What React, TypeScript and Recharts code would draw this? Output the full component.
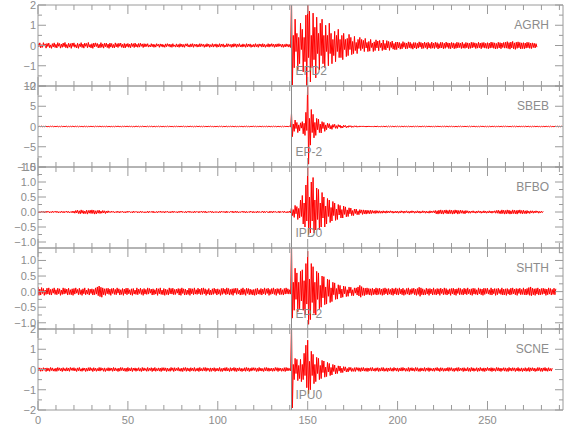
import { LineChart, Line, XAxis, YAxis, ReferenceLine } from 'recharts';

const AXIS = '#9a9a9a';
const TEXT = '#8c8c8c';
const TRACE = '#ff0000';
const PICK = '#8c8c8c';
const FONT = "'Liberation Sans', Arial, sans-serif";

const W = 580;
const H = 440;
const TOP = 5;
const PH = 81;
const DT = 0.5; // sample interval (s)

const xDomain = [0, 292];
const xTicks = [0, 10, 20, 30, 40, 50, 60, 70, 80, 90, 100, 110, 120, 130, 140, 150, 160, 170, 180, 190, 200, 210, 220, 230, 240, 250, 260, 270, 280, 290];
const xMajor = [0, 50, 100, 150, 200, 250];

const stations = ['AGRH', 'SBEB', 'BFBO', 'SHTH', 'SCNE'];
const pickLabels = ['EPD2', 'EP-2', 'IPD0', 'EP-2', 'IPU0'];
const pickTimes = [141, 141, 141, 141, 141];

// station traces, two samples per second, one row = 10 s
const agrh = [
  0.11, -0.06, 0.13, -0.12, 0.04, -0.09, 0.14, -0.03, 0.08, -0.13, 0.10, -0.05, 0.12, -0.11, 0.03, -0.14, 0.09, -0.07, 0.13, -0.10,
  0.06, -0.12, 0.14, -0.04, 0.10, -0.13, 0.07, -0.09, 0.12, -0.06, 0.15, -0.11, 0.05, -0.13, 0.11, -0.08, 0.09, -0.14, 0.12, -0.05,
  0.13, -0.09, 0.04, -0.12, 0.11, -0.14, 0.08, -0.06, 0.14, -0.10, 0.07, -0.13, 0.12, -0.04, 0.10, -0.11, 0.15, -0.08, 0.05, -0.12,
  0.09, -0.14, 0.12, -0.07, 0.13, -0.05, 0.10, -0.12, 0.06, -0.11, 0.14, -0.09, 0.08, -0.13, 0.11, -0.06, 0.12, -0.10, 0.07, -0.14,
  0.12, -0.08, 0.10, -0.11, 0.05, -0.12, 0.13, -0.07, 0.09, -0.10, 0.11, -0.04, 0.12, -0.09, 0.06, -0.11, 0.10, -0.12, 0.08, -0.06,
  0.10, -0.09, 0.07, -0.11, 0.11, -0.05, 0.09, -0.10, 0.12, -0.07, 0.06, -0.09, 0.10, -0.08, 0.11, -0.04, 0.08, -0.10, 0.09, -0.07,
  0.08, -0.05, 0.09, -0.08, 0.03, -0.07, 0.09, -0.06, 0.07, -0.09, 0.05, -0.08, 0.09, -0.03, 0.06, -0.09, 0.08, -0.05, 0.07, -0.08,
  0.04, -0.09, 0.08, -0.06, 0.09, -0.04, 0.07, -0.08, 0.06, -0.09, 0.09, -0.05, 0.03, -0.08, 0.08, -0.07, 0.05, -0.09, 0.09, -0.06,
  0.07, -0.08, 0.05, -0.09, 0.08, -0.03, 0.09, -0.07, 0.04, -0.08, 0.08, -0.06, 0.09, -0.09, 0.06, -0.04, 0.07, -0.08, 0.05, -0.07,
  0.09, -0.06, 0.08, -0.04, 0.06, -0.09, 0.05, -0.07, 0.09, -0.05, 0.07, -0.09, 0.04, -0.06, 0.09, -0.08, 0.06, -0.05, 0.08, -0.09,
  0.05, -0.07, 0.09, -0.08, 0.07, -0.05, 0.08, -0.09, 0.03, -0.07, 0.09, -0.06, 0.08, -0.04, 0.05, -0.09, 0.07, -0.08, 0.09, -0.05,
  0.08, -0.09, 0.06, -0.05, 0.09, -0.07, 0.04, -0.08, 0.08, -0.06, 0.05, -0.09, 0.09, -0.07, 0.07, -0.05, 0.08, -0.09, 0.04, -0.07,
  0.06, -0.08, 0.09, -0.06, 0.05, -0.09, 0.08, -0.04, 0.07, -0.08, 0.09, -0.07, 0.06, -0.09, 0.04, -0.06, 0.09, -0.08, 0.07, -0.05,
  0.09, -0.05, 0.07, -0.09, 0.06, -0.07, 0.08, -0.06, 0.09, -0.04, 0.06, -0.08, 0.07, -0.09, 0.05, -0.07, 0.08, -0.05, 0.06, -0.08,
  0.05, -0.1, 2.4, -1.95, 0.5, -1.1, 1.3, -0.3, 0.6, -1.2, 0.4, -0.9, 1.1, -0.2, 0.8, -1.3, 0.4, -0.8, 1.5, -2.3,
  2.5, -0.6, 1.7, -1.8, 0.5, -1.1, 1.6, -0.7, 0.9, -1.6, 1.4, -0.4, 0.6, -1.2, 1.1, -0.5, 1.3, -0.9, 0.5, -1.1,
  1.0, -0.3, 0.5, -1.0, 1.1, -0.4, 0.6, -0.9, 0.3, -0.5, 0.7, -0.8, 0.5, -0.3, 0.8, -0.6, 0.3, -0.6, 0.5, -0.7,
  0.6, -0.2, 0.3, -0.55, 0.35, -0.5, 0.55, -0.2, 0.4, -0.45, 0.2, -0.4, 0.45, -0.25, 0.15, -0.4, 0.3, -0.15, 0.4, -0.25,
  0.3, -0.15, 0.25, -0.3, 0.35, -0.12, 0.15, -0.3, 0.2, -0.28, 0.3, -0.1, 0.12, -0.3, 0.18, -0.25, 0.28, -0.12, 0.22, -0.26,
  0.25, -0.1, 0.12, -0.25, 0.27, -0.2, 0.1, -0.22, 0.24, -0.12, 0.2, -0.24, 0.16, -0.1, 0.22, -0.18, 0.1, -0.21, 0.17, -0.2,
  0.17, -0.12, 0.15, -0.18, 0.10, -0.16, 0.19, -0.09, 0.14, -0.17, 0.12, -0.15, 0.18, -0.11, 0.16, -0.14, 0.09, -0.18, 0.15, -0.12,
  0.14, -0.17, 0.11, -0.13, 0.18, -0.08, 0.15, -0.16, 0.12, -0.14, 0.17, -0.10, 0.13, -0.18, 0.16, -0.12, 0.10, -0.15, 0.17, -0.13,
  0.12, -0.15, 0.16, -0.10, 0.14, -0.17, 0.09, -0.13, 0.16, -0.12, 0.15, -0.16, 0.11, -0.14, 0.17, -0.09, 0.13, -0.15, 0.12, -0.16,
  0.15, -0.11, 0.13, -0.16, 0.10, -0.14, 0.16, -0.12, 0.14, -0.10, 0.12, -0.15, 0.16, -0.13, 0.09, -0.14, 0.15, -0.11, 0.13, -0.16,
  0.11, -0.14, 0.16, -0.12, 0.15, -0.09, 0.13, -0.15, 0.10, -0.13, 0.16, -0.11, 0.12, -0.16, 0.14, -0.10, 0.15, -0.13, 0.11, -0.14,
  0.14, -0.16, 0.12, -0.13, 0.17, -0.11, 0.15, -0.14, 0.13, -0.17, 0.10, -0.15, 0.16, -0.12, 0.14, -0.16, 0.12, -0.10, 0.15, -0.13,
  0.16, -0.13, 0.19, -0.15, 0.14, -0.18, 0.17, -0.12, 0.20, -0.16, 0.13, -0.19, 0.16, -0.14, 0.18, -0.11, 0.15, -0.17, 0.13, -0.15,
  0.14, -0.16, 0.12, -0.13, 0.16, -0.11, 0.15, -0.14, 0.12, -0.15, 0.13, -0.10, 0.11, -0.12, 0.09, -0.08,
];

const sbeb = [
  0.06, -0.09, 0.08, -0.05, 0.10, -0.07, 0.04, -0.08, 0.09, -0.06, 0.07, -0.10, 0.05, -0.07, 0.08, -0.04, 0.09, -0.08, 0.06, -0.09,
  0.09, -0.05, 0.07, -0.09, 0.04, -0.08, 0.10, -0.06, 0.06, -0.07, 0.08, -0.05, 0.09, -0.10, 0.05, -0.06, 0.07, -0.09, 0.10, -0.04,
  0.05, -0.08, 0.09, -0.06, 0.08, -0.10, 0.06, -0.05, 0.07, -0.09, 0.04, -0.07, 0.10, -0.08, 0.06, -0.09, 0.05, -0.06, 0.08, -0.07,
  0.08, -0.06, 0.05, -0.10, 0.09, -0.04, 0.07, -0.08, 0.10, -0.05, 0.06, -0.09, 0.07, -0.06, 0.04, -0.08, 0.09, -0.07, 0.05, -0.10,
  0.07, -0.10, 0.06, -0.07, 0.05, -0.09, 0.08, -0.04, 0.09, -0.06, 0.10, -0.08, 0.04, -0.09, 0.07, -0.05, 0.08, -0.06, 0.09, -0.07,
  0.10, -0.07, 0.08, -0.05, 0.06, -0.09, 0.05, -0.10, 0.07, -0.04, 0.09, -0.06, 0.08, -0.09, 0.05, -0.07, 0.10, -0.05, 0.06, -0.08,
  0.04, -0.06, 0.09, -0.08, 0.07, -0.05, 0.10, -0.09, 0.05, -0.07, 0.08, -0.10, 0.06, -0.04, 0.09, -0.08, 0.07, -0.06, 0.05, -0.09,
  0.08, -0.09, 0.05, -0.06, 0.10, -0.07, 0.06, -0.05, 0.09, -0.10, 0.04, -0.08, 0.07, -0.06, 0.08, -0.05, 0.06, -0.09, 0.10, -0.07,
  0.06, -0.05, 0.10, -0.08, 0.04, -0.09, 0.07, -0.07, 0.08, -0.05, 0.09, -0.06, 0.05, -0.10, 0.06, -0.08, 0.09, -0.04, 0.07, -0.06,
  0.09, -0.08, 0.06, -0.09, 0.08, -0.06, 0.05, -0.07, 0.10, -0.08, 0.07, -0.04, 0.09, -0.05, 0.04, -0.09, 0.06, -0.10, 0.08, -0.05,
  0.05, -0.07, 0.08, -0.04, 0.09, -0.10, 0.06, -0.08, 0.07, -0.06, 0.10, -0.09, 0.05, -0.05, 0.08, -0.07, 0.09, -0.06, 0.04, -0.08,
  0.07, -0.09, 0.04, -0.07, 0.06, -0.05, 0.09, -0.10, 0.05, -0.08, 0.08, -0.06, 0.10, -0.07, 0.06, -0.09, 0.05, -0.08, 0.09, -0.04,
  0.10, -0.06, 0.07, -0.08, 0.05, -0.07, 0.08, -0.05, 0.06, -0.09, 0.09, -0.07, 0.04, -0.06, 0.10, -0.10, 0.07, -0.05, 0.06, -0.09,
  0.06, -0.08, 0.09, -0.05, 0.07, -0.09, 0.04, -0.06, 0.08, -0.07, 0.05, -0.10, 0.09, -0.08, 0.06, -0.04, 0.08, -0.09, 0.07, -0.06,
  0.1, -0.1, 3.3, -2.5, 0.6, -1.2, 1.6, -0.5, 1.0, -1.5, 0.4, -1.1, 0.9, -0.4, 1.2, -1.8, 0.8, -2.2, 3.5, -1.0,
  11.5, -9.3, 2.0, -4.6, 4.2, -1.5, 3.0, -2.8, 1.0, -2.2, 2.0, -0.8, 1.8, -1.5, 0.6, -1.6, 1.2, -0.5, 1.0, -1.2,
  0.4, -0.8, 0.8, -0.3, 0.7, -0.6, 0.25, -0.7, 0.5, -0.2, 0.55, -0.45, 0.2, -0.5, 0.45, -0.15, 0.35, -0.4, 0.12, -0.35,
  0.32, -0.12, 0.25, -0.3, 0.1, -0.22, 0.22, -0.1, 0.2, -0.22, 0.1, -0.18, 0.18, -0.08, 0.17, -0.18, 0.08, -0.15, 0.15, -0.1,
  0.14, -0.12, 0.15, -0.13, 0.11, -0.15, 0.13, -0.11, 0.14, -0.12, 0.12, -0.14, 0.13, -0.10, 0.11, -0.13, 0.12, -0.11, 0.10, -0.12,
  0.12, -0.10, 0.11, -0.12, 0.09, -0.11, 0.12, -0.09, 0.10, -0.11, 0.11, -0.08, 0.09, -0.10, 0.10, -0.09, 0.08, -0.10, 0.09, -0.08,
  0.09, -0.07, 0.06, -0.10, 0.08, -0.05, 0.07, -0.09, 0.10, -0.06, 0.05, -0.08, 0.09, -0.07, 0.06, -0.10, 0.04, -0.06, 0.08, -0.09,
  0.07, -0.05, 0.10, -0.08, 0.06, -0.09, 0.05, -0.07, 0.09, -0.04, 0.08, -0.10, 0.06, -0.05, 0.07, -0.08, 0.10, -0.09, 0.05, -0.07,
  0.05, -0.09, 0.08, -0.06, 0.10, -0.07, 0.09, -0.05, 0.04, -0.08, 0.07, -0.06, 0.10, -0.09, 0.08, -0.04, 0.06, -0.10, 0.09, -0.05,
  0.08, -0.06, 0.04, -0.09, 0.07, -0.10, 0.06, -0.08, 0.09, -0.05, 0.10, -0.07, 0.05, -0.06, 0.09, -0.09, 0.07, -0.05, 0.06, -0.08,
  0.10, -0.08, 0.07, -0.05, 0.09, -0.06, 0.08, -0.10, 0.05, -0.07, 0.06, -0.09, 0.08, -0.04, 0.10, -0.06, 0.05, -0.08, 0.07, -0.09,
  0.06, -0.10, 0.09, -0.07, 0.05, -0.08, 0.10, -0.06, 0.07, -0.09, 0.04, -0.05, 0.09, -0.08, 0.06, -0.07, 0.08, -0.09, 0.10, -0.06,
  0.09, -0.04, 0.06, -0.08, 0.08, -0.09, 0.05, -0.07, 0.10, -0.06, 0.09, -0.10, 0.07, -0.05, 0.04, -0.08, 0.09, -0.07, 0.06, -0.05,
  0.07, -0.09, 0.10, -0.06, 0.06, -0.05, 0.08, -0.09, 0.05, -0.10, 0.07, -0.06, 0.09, -0.08, 0.08, -0.05, 0.06, -0.07, 0.04, -0.09,
  0.05, -0.07, 0.08, -0.10, 0.09, -0.06, 0.07, -0.05, 0.06, -0.08, 0.10, -0.07, 0.05, -0.09, 0.07, -0.06, 0.09, -0.05, 0.08, -0.10,
  0.06, -0.08, 0.09, -0.05, 0.07,
];

const bfbo = [
  0.02, -0.03, 0.01, -0.02, 0.03, -0.01, 0.02, -0.03, 0.02, -0.02, 0.03, -0.01, 0.02, -0.03, 0.01, -0.02, 0.03, -0.02, 0.02, -0.01,
  0.03, -0.02, 0.02, -0.03, 0.01, -0.02, 0.03, -0.02, 0.02, -0.03, 0.02, -0.01, 0.03, -0.02, 0.02, -0.03, 0.01, -0.02, 0.03, -0.03,
  0.03, -0.04, 0.05, -0.03, 0.06, -0.05, 0.04, -0.06, 0.07, -0.04, 0.05, -0.06, 0.03, -0.05, 0.06, -0.07, 0.05, -0.04, 0.06, -0.05,
  0.07, -0.05, 0.06, -0.07, 0.04, -0.06, 0.05, -0.04, 0.06, -0.05, 0.03, -0.04, 0.05, -0.03, 0.04, -0.05, 0.03, -0.03, 0.04, -0.02,
  0.02, -0.02, 0.03, -0.01, 0.02, -0.03, 0.01, -0.02, 0.03, -0.02, 0.02, -0.03, 0.02, -0.01, 0.03, -0.02, 0.01, -0.03, 0.02, -0.02,
  0.03, -0.01, 0.02, -0.02, 0.01, -0.03, 0.03, -0.02, 0.02, -0.01, 0.02, -0.03, 0.01, -0.02, 0.03, -0.02, 0.02, -0.02, 0.01, -0.03,
  0.01, -0.02, 0.03, -0.03, 0.02, -0.01, 0.02, -0.02, 0.03, -0.03, 0.01, -0.02, 0.02, -0.03, 0.02, -0.01, 0.03, -0.02, 0.02, -0.02,
  0.02, -0.03, 0.02, -0.01, 0.03, -0.02, 0.01, -0.03, 0.02, -0.02, 0.03, -0.02, 0.02, -0.01, 0.01, -0.03, 0.02, -0.02, 0.03, -0.01,
  0.03, -0.02, 0.01, -0.02, 0.02, -0.03, 0.02, -0.01, 0.03, -0.02, 0.02, -0.02, 0.01, -0.03, 0.03, -0.02, 0.02, -0.01, 0.02, -0.03,
  0.02, -0.01, 0.03, -0.02, 0.02, -0.02, 0.03, -0.03, 0.01, -0.02, 0.02, -0.01, 0.03, -0.02, 0.02, -0.03, 0.01, -0.02, 0.02, -0.02,
  0.01, -0.03, 0.02, -0.02, 0.03, -0.01, 0.02, -0.02, 0.02, -0.03, 0.03, -0.02, 0.01, -0.02, 0.02, -0.01, 0.03, -0.03, 0.02, -0.02,
  0.03, -0.02, 0.02, -0.03, 0.01, -0.02, 0.02, -0.01, 0.03, -0.02, 0.02, -0.03, 0.02, -0.02, 0.01, -0.02, 0.03, -0.01, 0.02, -0.03,
  0.02, -0.02, 0.01, -0.03, 0.03, -0.02, 0.02, -0.02, 0.01, -0.01, 0.03, -0.03, 0.02, -0.02, 0.02, -0.01, 0.01, -0.03, 0.03, -0.02,
  0.02, -0.03, 0.03, -0.01, 0.02, -0.02, 0.01, -0.02, 0.03, -0.03, 0.02, -0.01, 0.02, -0.02, 0.03, -0.02, 0.01, -0.03, 0.02, -0.02,
  0.03, -0.03, 0.15, -0.12, 0.08, -0.18, 0.22, -0.06, 0.18, -0.25, 0.12, -0.2, 0.4, -0.15, 0.55, -0.4, 0.3, -0.5, 0.9, -0.3,
  1.55, -0.75, 0.5, -0.7, 1.0, -0.3, 1.15, -0.7, 0.4, -0.6, 0.8, -0.25, 0.75, -0.6, 0.3, -0.5, 0.65, -0.2, 0.5, -0.5,
  0.2, -0.4, 0.45, -0.15, 0.4, -0.35, 0.15, -0.3, 0.35, -0.12, 0.3, -0.28, 0.1, -0.25, 0.25, -0.1, 0.22, -0.2, 0.08, -0.2,
  0.2, -0.08, 0.17, -0.16, 0.07, -0.15, 0.14, -0.06, 0.13, -0.12, 0.05, -0.12, 0.1, -0.05, 0.1, -0.09, 0.04, -0.09, 0.08, -0.04,
  0.07, -0.08, 0.07, -0.06, 0.06, -0.07, 0.06, -0.05, 0.05, -0.06, 0.06, -0.05, 0.05, -0.04, 0.04, -0.05, 0.05, -0.04, 0.04, -0.04,
  0.04, -0.04, 0.03, -0.04, 0.04, -0.03, 0.03, -0.04, 0.04, -0.03, 0.03, -0.03, 0.04, -0.02, 0.03, -0.04, 0.02, -0.03, 0.03, -0.03,
  0.03, -0.04, 0.02, -0.03, 0.04, -0.02, 0.03, -0.04, 0.03, -0.02, 0.04, -0.03, 0.02, -0.04, 0.03, -0.03, 0.04, -0.02, 0.03, -0.04,
  0.02, -0.03, 0.04, -0.03, 0.03, -0.04, 0.02, -0.03, 0.04, -0.02, 0.03, -0.04, 0.03, -0.03, 0.02, -0.04, 0.04, -0.03, 0.03, -0.02,
  0.04, -0.03, 0.05, -0.06, 0.04, -0.07, 0.06, -0.05, 0.07, -0.06, 0.05, -0.07, 0.06, -0.04, 0.07, -0.06, 0.05, -0.06, 0.07, -0.05,
  0.06, -0.07, 0.05, -0.06, 0.07, -0.04, 0.06, -0.07, 0.05, -0.05, 0.06, -0.04, 0.05, -0.05, 0.04, -0.06, 0.05, -0.03, 0.04, -0.04,
  0.03, -0.04, 0.03, -0.02, 0.04, -0.03, 0.02, -0.04, 0.03, -0.03, 0.04, -0.02, 0.03, -0.04, 0.02, -0.03, 0.04, -0.03, 0.03, -0.04,
  0.02, -0.03, 0.04, -0.03, 0.03, -0.04, 0.03, -0.02, 0.04, -0.04, 0.05, -0.04, 0.06, -0.05, 0.04, -0.06, 0.07, -0.05, 0.06, -0.07,
  0.05, -0.06, 0.07, -0.05, 0.06, -0.07, 0.04, -0.06, 0.07, -0.05, 0.06, -0.06, 0.05, -0.07, 0.06, -0.04, 0.07, -0.05, 0.05, -0.06,
  0.06, -0.05, 0.04, -0.06, 0.05, -0.04, 0.03, -0.05, 0.04, -0.03, 0.04, -0.04, 0.03, -0.03, 0.04, -0.02, 0.03, -0.04, 0.02, -0.03,
  0.03, -0.02, 0.02,
];

const shth = [
  0.15, -0.12, 0.08, -0.11, 0.13, -0.06, 0.10, -0.12, 0.05, -0.09, 0.11, -0.08, 0.12, -0.10, 0.07, -0.11, 0.09, -0.05, 0.12, -0.09,
  0.06, -0.10, 0.11, -0.07, 0.09, -0.12, 0.05, -0.09, 0.12, -0.08, 0.10, -0.06, 0.08, -0.11, 0.11, -0.09, 0.06, -0.10, 0.09, -0.12,
  0.10, -0.08, 0.12, -0.05, 0.07, -0.10, 0.11, -0.09, 0.06, -0.12, 0.09, -0.07, 0.12, -0.10, 0.05, -0.08, 0.10, -0.11, 0.08, -0.06,
  0.09, -0.11, 0.07, -0.10, 0.12, -0.08, 0.15, -0.13, 0.18, -0.16, 0.14, -0.18, 0.12, -0.10, 0.09, -0.12, 0.10, -0.07, 0.11, -0.09,
  0.08, -0.12, 0.10, -0.06, 0.11, -0.09, 0.07, -0.10, 0.12, -0.05, 0.09, -0.11, 0.06, -0.09, 0.10, -0.12, 0.08, -0.07, 0.11, -0.10,
  0.11, -0.07, 0.06, -0.10, 0.09, -0.12, 0.10, -0.08, 0.05, -0.09, 0.12, -0.10, 0.08, -0.06, 0.11, -0.09, 0.07, -0.12, 0.10, -0.08,
  0.07, -0.09, 0.12, -0.08, 0.10, -0.05, 0.08, -0.11, 0.09, -0.10, 0.06, -0.08, 0.11, -0.12, 0.09, -0.07, 0.12, -0.09, 0.05, -0.10,
  0.10, -0.12, 0.08, -0.09, 0.06, -0.11, 0.12, -0.07, 0.10, -0.08, 0.11, -0.10, 0.07, -0.09, 0.08, -0.05, 0.10, -0.11, 0.09, -0.12,
  0.12, -0.06, 0.09, -0.11, 0.08, -0.10, 0.05, -0.09, 0.11, -0.12, 0.10, -0.07, 0.09, -0.10, 0.12, -0.08, 0.06, -0.09, 0.11, -0.07,
  0.08, -0.10, 0.11, -0.09, 0.12, -0.07, 0.09, -0.12, 0.06, -0.08, 0.10, -0.11, 0.05, -0.10, 0.09, -0.09, 0.11, -0.06, 0.08, -0.11,
  0.09, -0.08, 0.06, -0.12, 0.10, -0.09, 0.11, -0.06, 0.08, -0.10, 0.12, -0.08, 0.10, -0.11, 0.07, -0.09, 0.09, -0.12, 0.10, -0.05,
  0.11, -0.09, 0.10, -0.07, 0.05, -0.11, 0.09, -0.10, 0.12, -0.09, 0.07, -0.12, 0.11, -0.06, 0.10, -0.10, 0.08, -0.09, 0.06, -0.11,
  0.07, -0.12, 0.09, -0.10, 0.11, -0.08, 0.06, -0.09, 0.10, -0.11, 0.08, -0.07, 0.12, -0.10, 0.09, -0.06, 0.11, -0.12, 0.07, -0.09,
  0.10, -0.07, 0.12, -0.09, 0.08, -0.12, 0.10, -0.06, 0.09, -0.10, 0.11, -0.09, 0.06, -0.11, 0.10, -0.08, 0.12, -0.07, 0.09, -0.08,
  0.06, -0.08, 1.6, -0.85, 0.3, -0.6, 0.75, -0.25, 0.6, -0.65, 0.3, -0.55, 0.65, -0.3, 0.7, -0.6, 0.35, -0.75, 0.9, -0.4,
  1.3, -1.05, 0.4, -0.9, 0.9, -0.35, 0.8, -0.7, 0.3, -0.75, 0.65, -0.25, 0.6, -0.55, 0.2, -0.5, 0.5, -0.2, 0.48, -0.42,
  0.15, -0.4, 0.4, -0.15, 0.38, -0.35, 0.12, -0.32, 0.3, -0.1, 0.28, -0.25, 0.1, -0.24, 0.22, -0.08, 0.2, -0.2, 0.08, -0.18,
  0.18, -0.07, 0.16, -0.16, 0.06, -0.15, 0.15, -0.05, 0.14, -0.13, 0.06, -0.13, 0.12, -0.05, 0.12, -0.11, 0.15, -0.14, 0.2, -0.18,
  0.16, -0.12, 0.12, -0.13, 0.11, -0.10, 0.12, -0.09, 0.10, -0.11, 0.09, -0.12, 0.11, -0.10, 0.08, -0.09, 0.12, -0.11, 0.10, -0.09,
  0.11, -0.09, 0.08, -0.12, 0.10, -0.10, 0.12, -0.07, 0.09, -0.11, 0.10, -0.08, 0.07, -0.10, 0.11, -0.12, 0.09, -0.08, 0.12, -0.10,
  0.09, -0.11, 0.12, -0.07, 0.08, -0.10, 0.11, -0.12, 0.06, -0.09, 0.10, -0.08, 0.12, -0.11, 0.07, -0.09, 0.10, -0.06, 0.11, -0.10,
  0.08, -0.12, 0.10, -0.09, 0.14, -0.15, 0.12, -0.10, 0.09, -0.11, 0.06, -0.10, 0.11, -0.08, 0.09, -0.12, 0.10, -0.07, 0.08, -0.11,
  0.12, -0.09, 0.07, -0.11, 0.10, -0.08, 0.09, -0.12, 0.11, -0.06, 0.08, -0.10, 0.12, -0.09, 0.10, -0.11, 0.06, -0.08, 0.09, -0.12,
  0.10, -0.07, 0.11, -0.10, 0.08, -0.12, 0.09, -0.06, 0.12, -0.10, 0.10, -0.09, 0.07, -0.11, 0.11, -0.08, 0.09, -0.10, 0.12, -0.07,
  0.07, -0.10, 0.09, -0.12, 0.11, -0.08, 0.10, -0.09, 0.06, -0.11, 0.12, -0.07, 0.09, -0.10, 0.08, -0.12, 0.11, -0.09, 0.10, -0.06,
  0.11, -0.08, 0.06, -0.10, 0.12, -0.11, 0.08, -0.07, 0.10, -0.12, 0.09, -0.10, 0.11, -0.06, 0.07, -0.09, 0.12, -0.11, 0.08, -0.10,
  0.09, -0.12, 0.10, -0.08, 0.07, -0.11, 0.11, -0.09, 0.12, -0.07, 0.08, -0.10, 0.10, -0.12, 0.09, -0.06, 0.11, -0.10, 0.07, -0.09,
  0.12, -0.10, 0.08, -0.11, 0.10, -0.09, 0.13, -0.12, 0.15, -0.13, 0.11, -0.10, 0.09, -0.12, 0.10, -0.08, 0.12, -0.11, 0.08, -0.10,
  0.10, -0.09, 0.11, -0.07, 0.09, -0.12, 0.08, -0.10, 0.12, -0.08, 0.10, -0.11, 0.07, -0.09, 0.11, -0.10, 0.09,
];

const scne = [
  0.10, -0.06, 0.08, -0.09, 0.05, -0.08, 0.09, -0.04, 0.07, -0.10, 0.08, -0.07, 0.06, -0.09, 0.10, -0.05, 0.08, -0.08, 0.04, -0.09,
  0.07, -0.09, 0.10, -0.05, 0.08, -0.07, 0.06, -0.10, 0.09, -0.06, 0.05, -0.08, 0.09, -0.07, 0.07, -0.09, 0.10, -0.04, 0.08, -0.06,
  0.09, -0.07, 0.05, -0.10, 0.08, -0.06, 0.10, -0.08, 0.04, -0.09, 0.08, -0.05, 0.07, -0.10, 0.06, -0.08, 0.09, -0.07, 0.10, -0.05,
  0.06, -0.10, 0.09, -0.06, 0.07, -0.09, 0.05, -0.07, 0.10, -0.08, 0.09, -0.04, 0.06, -0.09, 0.08, -0.10, 0.05, -0.06, 0.09, -0.08,
  0.08, -0.05, 0.07, -0.09, 0.10, -0.07, 0.08, -0.06, 0.05, -0.10, 0.07, -0.08, 0.10, -0.05, 0.09, -0.07, 0.06, -0.09, 0.07, -0.10,
  0.10, -0.08, 0.06, -0.07, 0.09, -0.10, 0.07, -0.05, 0.08, -0.09, 0.06, -0.06, 0.09, -0.08, 0.05, -0.10, 0.10, -0.07, 0.08, -0.05,
  0.05, -0.09, 0.10, -0.08, 0.06, -0.05, 0.09, -0.10, 0.07, -0.07, 0.10, -0.09, 0.05, -0.06, 0.08, -0.08, 0.07, -0.10, 0.09, -0.06,
  0.09, -0.06, 0.08, -0.10, 0.07, -0.08, 0.05, -0.09, 0.10, -0.05, 0.08, -0.10, 0.09, -0.07, 0.06, -0.05, 0.10, -0.08, 0.05, -0.09,
  0.07, -0.10, 0.09, -0.05, 0.10, -0.09, 0.08, -0.07, 0.06, -0.10, 0.09, -0.06, 0.07, -0.08, 0.10, -0.09, 0.05, -0.07, 0.08, -0.10,
  0.10, -0.07, 0.05, -0.08, 0.09, -0.06, 0.10, -0.09, 0.08, -0.05, 0.06, -0.10, 0.08, -0.09, 0.07, -0.06, 0.09, -0.10, 0.06, -0.07,
  0.06, -0.08, 0.10, -0.09, 0.05, -0.10, 0.07, -0.06, 0.09, -0.08, 0.10, -0.07, 0.05, -0.10, 0.09, -0.08, 0.07, -0.05, 0.10, -0.09,
  0.08, -0.10, 0.07, -0.06, 0.09, -0.08, 0.06, -0.10, 0.05, -0.07, 0.09, -0.09, 0.10, -0.06, 0.08, -0.10, 0.06, -0.08, 0.09, -0.05,
  0.09, -0.05, 0.08, -0.10, 0.06, -0.09, 0.10, -0.07, 0.07, -0.08, 0.05, -0.10, 0.09, -0.06, 0.10, -0.08, 0.08, -0.09, 0.06, -0.07,
  0.07, -0.09, 0.06, -0.08, 0.10, -0.05, 0.09, -0.10, 0.08, -0.06, 0.07, -0.09, 0.05, -0.08, 0.09, -0.10, 0.10, -0.07, 0.08, -0.06,
  0.05, -0.07, 2.3, -1.9, 0.25, -0.5, 0.55, -0.2, 0.5, -0.55, 0.2, -0.45, 0.5, -0.6, 0.25, -0.5, 0.8, -0.3, 1.2, -0.9,
  1.45, -1.2, 0.4, -1.0, 0.9, -0.3, 0.75, -0.7, 0.25, -0.6, 0.6, -0.2, 0.55, -0.5, 0.2, -0.45, 0.45, -0.15, 0.42, -0.38,
  0.12, -0.35, 0.35, -0.12, 0.3, -0.3, 0.1, -0.27, 0.25, -0.1, 0.22, -0.22, 0.08, -0.2, 0.18, -0.08, 0.17, -0.16, 0.07, -0.15,
  0.14, -0.06, 0.13, -0.12, 0.05, -0.12, 0.11, -0.05, 0.1, -0.1, 0.05, -0.09, 0.09, -0.1, 0.1, -0.04, 0.09, -0.09, 0.08, -0.1,
  0.09, -0.07, 0.10, -0.08, 0.06, -0.09, 0.08, -0.10, 0.07, -0.06, 0.09, -0.08, 0.10, -0.07, 0.05, -0.09, 0.08, -0.06, 0.09, -0.10,
  0.06, -0.08, 0.09, -0.07, 0.10, -0.09, 0.05, -0.08, 0.08, -0.10, 0.07, -0.06, 0.09, -0.08, 0.06, -0.09, 0.10, -0.05, 0.07, -0.08,
  0.08, -0.10, 0.06, -0.07, 0.09, -0.08, 0.10, -0.05, 0.07, -0.09, 0.05, -0.08, 0.10, -0.10, 0.08, -0.06, 0.09, -0.07, 0.06, -0.09,
  0.10, -0.06, 0.09, -0.09, 0.05, -0.10, 0.08, -0.07, 0.06, -0.08, 0.10, -0.09, 0.07, -0.05, 0.09, -0.10, 0.08, -0.06, 0.05, -0.08,
  0.07, -0.09, 0.08, -0.05, 0.10, -0.07, 0.06, -0.10, 0.09, -0.06, 0.08, -0.09, 0.05, -0.08, 0.07, -0.07, 0.10, -0.09, 0.09, -0.05,
  0.09, -0.08, 0.05, -0.10, 0.07, -0.06, 0.09, -0.09, 0.10, -0.07, 0.06, -0.05, 0.08, -0.10, 0.09, -0.08, 0.05, -0.07, 0.10, -0.09,
  0.06, -0.10, 0.10, -0.07, 0.08, -0.09, 0.05, -0.06, 0.09, -0.10, 0.07, -0.08, 0.10, -0.06, 0.06, -0.09, 0.08, -0.10, 0.07, -0.06,
  0.10, -0.05, 0.07, -0.08, 0.09, -0.10, 0.08, -0.07, 0.05, -0.09, 0.10, -0.06, 0.09, -0.08, 0.07, -0.10, 0.06, -0.05, 0.09, -0.08,
  0.08, -0.09, 0.06, -0.10, 0.10, -0.06, 0.07, -0.08, 0.09, -0.05, 0.08, -0.10, 0.06, -0.07, 0.10, -0.09, 0.05, -0.08, 0.08, -0.10,
  0.05, -0.07, 0.09, -0.09, 0.06, -0.08, 0.10, -0.10, 0.08, -0.06, 0.09, -0.07, 0.07, -0.10, 0.05, -0.08, 0.10, -0.06, 0.09, -0.09,
  0.07, -0.10, 0.08, -0.06, 0.10, -0.08, 0.06, -0.09, 0.09, -0.07, 0.05, -0.08, 0.07,
];

// y axis settings per station
const agrhTicks = [-2, -1.5, -1, -0.5, 0, 0.5, 1, 1.5, 2];
const agrhMajor = [-2, -1, 0, 1, 2];
const sbebTicks = [-10, -7.5, -5, -2.5, 0, 2.5, 5, 7.5, 10];
const sbebMajor = [-10, -5, 0, 5, 10];
const bfboTicks = [-1, -0.75, -0.5, -0.25, 0, 0.25, 0.5, 0.75, 1, 1.25, 1.5];
const bfboMajor = [-1, -0.5, 0, 0.5, 1, 1.5];
const shthTicks = [-1, -0.75, -0.5, -0.25, 0, 0.25, 0.5, 0.75, 1, 1.25];
const shthMajor = [-1, -0.5, 0, 0.5, 1];
const scneTicks = [-2, -1.5, -1, -0.5, 0, 0.5, 1, 1.5, 2];
const scneMajor = [-2, -1, 0, 1, 2];

const panels = [
  { values: agrh, domain: [-2, 2], ticks: agrhTicks, major: agrhMajor, digits: 0 },
  { values: sbeb, domain: [-10, 10], ticks: sbebTicks, major: sbebMajor, digits: 0 },
  { values: bfbo, domain: [-1.2, 1.5], ticks: bfboTicks, major: bfboMajor, digits: 1 },
  { values: shth, domain: [-1.2, 1.4], ticks: shthTicks, major: shthMajor, digits: 1 },
  { values: scne, domain: [-2, 2], ticks: scneTicks, major: scneMajor, digits: 0 },
];

const fmt = (v: number, digits: number) => v.toFixed(digits).replace('-', '\u2212');

function XTick(props: any) {
  const { x, y, payload, dir, showLabel } = props;
  const v = payload.value;
  const major = xMajor.includes(v);
  return (
    <g>
      <line x1={x} x2={x} y1={y} y2={y + dir * (major ? 9 : 5)} stroke={AXIS} />
      {showLabel && major && (
        <text x={x} y={y + 10} textAnchor="middle" dominantBaseline="central" fill={TEXT} fontSize={11} fontFamily={FONT}>
          {v}
        </text>
      )}
    </g>
  );
}

function YTick(props: any) {
  const { x, y, payload, dir, major, digits, showLabel } = props;
  const v = payload.value;
  const isMajor = major.includes(v);
  return (
    <g>
      <line x1={x} x2={x + dir * (isMajor ? 8 : 4)} y1={y} y2={y} stroke={AXIS} />
      {showLabel && isMajor && (
        <text x={x - 2} y={y} textAnchor="end" dominantBaseline="central" fill={TEXT} fontSize={11} fontFamily={FONT}>
          {fmt(v, digits)}
        </text>
      )}
    </g>
  );
}

function Panel({ idx }: { idx: number }) {
  const p = panels[idx];
  const top = TOP + idx * PH;
  const data = p.values.map((v, i) => ({ t: i * DT, v }));
  const last = idx === panels.length - 1;
  return (
    <div style={{ position: 'absolute', left: 0, top: 0 }}>
      <LineChart width={W} height={H} data={data} margin={{ top: top - 1, bottom: H - top - PH - 1, left: 0, right: 0 }}>
        <XAxis
          xAxisId="b"
          dataKey="t"
          type="number"
          domain={xDomain}
          ticks={xTicks}
          interval={0}
          height={1}
          tickSize={0}
          tickMargin={0}
          allowDataOverflow
          axisLine={{ stroke: AXIS }}
          tickLine={false}
          tick={(tp: any) => <XTick {...tp} dir={-1} showLabel={last} />}
        />
        <XAxis
          xAxisId="t"
          orientation="top"
          dataKey="t"
          type="number"
          domain={xDomain}
          ticks={xTicks}
          interval={0}
          height={1}
          tickSize={0}
          tickMargin={0}
          allowDataOverflow
          axisLine={{ stroke: AXIS }}
          tickLine={false}
          tick={(tp: any) => <XTick {...tp} dir={1} showLabel={false} />}
        />
        <YAxis
          yAxisId="l"
          type="number"
          domain={p.domain}
          ticks={p.ticks}
          interval={0}
          width={38}
          tickSize={0}
          tickMargin={0}
          allowDataOverflow
          axisLine={{ stroke: AXIS }}
          tickLine={false}
          tick={(tp: any) => <YTick {...tp} dir={1} major={p.major} digits={p.digits} showLabel />}
        />
        <YAxis
          yAxisId="r"
          orientation="right"
          type="number"
          domain={p.domain}
          ticks={p.ticks}
          interval={0}
          width={17}
          tickSize={0}
          tickMargin={0}
          allowDataOverflow
          axisLine={{ stroke: AXIS }}
          tickLine={false}
          tick={(tp: any) => <YTick {...tp} dir={-1} major={p.major} digits={p.digits} showLabel={false} />}
        />
        <Line
          xAxisId="b"
          yAxisId="l"
          type="linear"
          dataKey="v"
          stroke={TRACE}
          strokeWidth={1}
          dot={false}
          isAnimationActive={false}
        />
        <ReferenceLine
          xAxisId="b"
          yAxisId="l"
          x={pickTimes[idx]}
          stroke={PICK}
          strokeWidth={1}
          label={(lp: any) => (
            <text x={lp.viewBox.x + 4} y={lp.viewBox.y + 66} dominantBaseline="central" fill={TEXT} fontSize={12} fontFamily={FONT}>
              {pickLabels[idx]}
            </text>
          )}
        />
      </LineChart>
    </div>
  );
}

export default function App() {
  return (
    <div style={{ position: 'absolute', left: 0, top: 0, width: W, height: H, background: '#fff' }}>
      {panels.map((_, i) => (
        <Panel key={i} idx={i} />
      ))}
      {stations.map((s, i) => (
        <div
          key={s}
          style={{
            position: 'absolute',
            right: 31,
            top: TOP + i * PH + 13,
            lineHeight: '14px',
            fontSize: 12,
            fontFamily: FONT,
            color: TEXT,
          }}
        >
          {s}
        </div>
      ))}
    </div>
  );
}
